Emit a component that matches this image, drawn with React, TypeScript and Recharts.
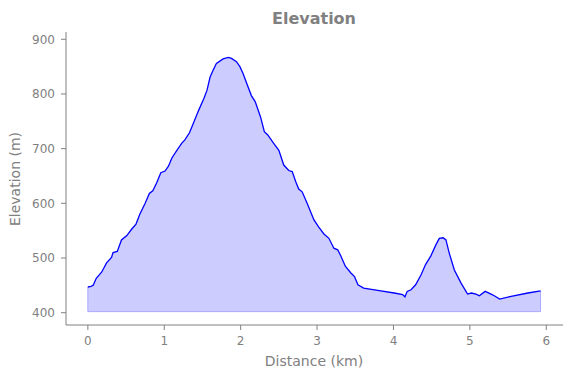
import React from 'react';
import { ComposedChart, Area, Line, XAxis, YAxis, ReferenceLine, Label } from 'recharts';

const distanceKm = [
  0.0, 0.04, 0.07, 0.11, 0.18, 0.245, 0.31, 0.33, 0.385, 0.44, 0.51, 0.575, 0.63, 0.68, 0.75,
  0.805, 0.85, 0.9, 0.955, 1.01, 1.055, 1.1, 1.165, 1.23, 1.27, 1.33, 1.38, 1.45, 1.52, 1.56,
  1.6, 1.645, 1.683, 1.77, 1.84, 1.88, 1.945, 1.99, 2.03, 2.08, 2.14, 2.19, 2.26, 2.31, 2.355, 2.43,
  2.5, 2.564, 2.63, 2.675, 2.72, 2.76, 2.805, 2.87, 2.958, 3.02, 3.09, 3.155, 3.22, 3.27, 3.31,
  3.37, 3.44, 3.49, 3.535, 3.61, 3.834, 4.01, 4.12, 4.15, 4.18, 4.23, 4.29, 4.36, 4.42, 4.49,
  4.555, 4.6, 4.65, 4.687, 4.73, 4.797, 4.885, 4.97, 5.02, 5.08, 5.124, 5.2, 5.278, 5.32, 5.39,
  5.54, 5.76, 5.925,
];

const elevationM = [
  447, 448, 450, 463, 474, 491, 501, 510, 512, 533, 541, 553, 562, 580, 600,
  618, 623, 637, 656, 659, 668, 683, 697, 710, 716, 729, 746, 770, 792, 807,
  831, 845, 856, 864, 867, 865, 859, 850, 838, 819, 797, 786, 758, 731, 725, 710,
  697, 670, 660, 658, 640, 626, 621, 600, 570, 557, 544, 536, 518, 515, 504,
  485, 473, 466, 451, 445, 440, 436, 433, 429, 439, 442, 451, 469, 488, 504,
  524, 536, 537, 533, 509, 478, 454, 434, 436, 434, 431, 439, 434, 431, 425,
  430, 436, 440,
];

const fillBase = 402;
const xTicks = [0, 1, 2, 3, 4, 5, 6];
const yTicks = [400, 500, 600, 700, 800, 900];

const data = distanceKm.map((d, i) => ({ dist: d, elev: elevationM[i] }));

const GRAY = '#808080';
const FONT = '"DejaVu Sans", sans-serif';

export default function App() {
  const firstD = distanceKm[0];
  const lastD = distanceKm[distanceKm.length - 1];
  return (
    <div style={{ position: 'fixed', left: 0, top: 0, width: 571, height: 378, background: '#fff' }}>
      <svg width={571} height={378} style={{ position: 'absolute', left: 0, top: 0 }}>
        <text x={314} y={24} textAnchor="middle" fontFamily={FONT} fontSize={16} fontWeight="bold" fill={GRAY}>
          Elevation
        </text>
      </svg>
      <div style={{ position: 'absolute', left: 0, top: 0 }}>
        <ComposedChart
          width={571}
          height={378}
          data={data}
          margin={{ top: 32, right: 8, left: 0, bottom: 0 }}
          style={{ fontFamily: FONT }}
        >
          <XAxis
            dataKey="dist"
            type="number"
            domain={[-0.286, 6.219]}
            ticks={xTicks}
            allowDataOverflow
            height={53}
            tickSize={5}
            tickMargin={6}
            stroke={GRAY}
            tick={{ fill: GRAY, fontSize: 12, fontFamily: FONT }}
            tickLine={{ stroke: GRAY }}
            axisLine={{ stroke: GRAY }}
          >
            <Label
              content={() => (
                <text x={314} y={366} textAnchor="middle" fontFamily={FONT} fontSize={14} fill={GRAY}>
                  Distance (km)
                </text>
              )}
            />
          </XAxis>
          <YAxis
            type="number"
            domain={[377.5, 913.3]}
            ticks={yTicks}
            allowDataOverflow
            width={66}
            tickSize={5}
            tickMargin={6}
            stroke={GRAY}
            tick={{ fill: GRAY, fontSize: 12, fontFamily: FONT }}
            tickLine={{ stroke: GRAY }}
            axisLine={{ stroke: GRAY }}
          >
            <Label
              content={() => (
                <text
                  x={20}
                  y={179}
                  transform="rotate(-90 20 179)"
                  textAnchor="middle"
                  fontFamily={FONT}
                  fontSize={14}
                  fill={GRAY}
                >
                  Elevation (m)
                </text>
              )}
            />
          </YAxis>
          <Area
            dataKey="elev"
            type="linear"
            baseValue={fillBase}
            fill="#ccccff"
            fillOpacity={1}
            stroke="none"
            isAnimationActive={false}
          />
          <ReferenceLine
            segment={[{ x: firstD, y: fillBase }, { x: lastD, y: fillBase }]}
            stroke="#aaaaff"
            strokeWidth={1}
          />
          <ReferenceLine
            segment={[{ x: firstD, y: fillBase }, { x: firstD, y: elevationM[0] }]}
            stroke="#aaaaff"
            strokeWidth={1}
          />
          <ReferenceLine
            segment={[{ x: lastD, y: fillBase }, { x: lastD, y: elevationM[elevationM.length - 1] }]}
            stroke="#aaaaff"
            strokeWidth={1}
          />
          <Line
            dataKey="elev"
            type="linear"
            stroke="#0000ff"
            strokeWidth={1.3}
            dot={false}
            activeDot={false}
            isAnimationActive={false}
          />
        </ComposedChart>
      </div>
    </div>
  );
}
